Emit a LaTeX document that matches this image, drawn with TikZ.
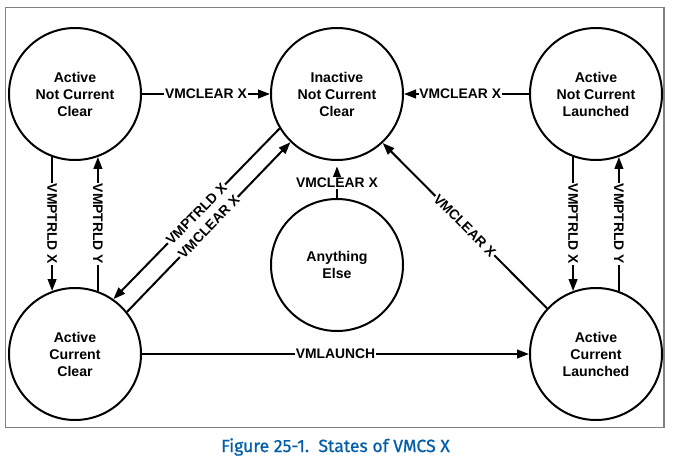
\documentclass[tikz,border=0pt]{standalone}
\usepackage{fontspec}
\setmainfont{Liberation Sans}
\newfontfamily\captionfont[FakeBold=0.8]{Fira Sans}
\usetikzlibrary{arrows.meta}
\definecolor{captionblue}{RGB}{0,94,170}

\begin{document}
\begin{tikzpicture}[%
        x = 0.75pt, y = -0.75pt,
        state/.style = {%
          circle,
          draw = black,
          line width = 1.5pt,
          minimum size = 99pt,
          inner sep = 0pt,
          align = center,
          font = \bfseries\fontsize{10.6}{12.75}\selectfont,
        },
        trans/.style = {%
          line width = 1.5pt,
          -{Triangle[length=9pt, width=6.5pt]},
        },
        lbl/.style = {%
          fill = white,
          inner sep = 0.6pt,
          font = \bfseries\fontsize{10.4}{12}\selectfont,
        },
      ]
      \useasboundingbox (0,0) rectangle (676,458);
      \draw[black!50, line width=0.8pt] (5.5,7.5) rectangle (664,427.5);
      \node[state] (anc clear)    at (75,94)   {Active\\Not Current\\Clear};
      \node[state] (inactive)     at (337,94)  {Inactive\\Not Current\\Clear};
      \node[state] (anc launched) at (596,94)  {Active\\Not Current\\Launched};
      \node[state] (anything)     at (337,265) {Anything\\Else};
      \node[state] (ac clear)     at (75,354)  {Active\\Current\\Clear};
      \node[state] (ac launched)  at (596,354) {Active\\Current\\Launched};
      \draw[trans] (anc clear) -- node[lbl] {VMCLEAR X} (inactive);
      \draw[trans] (anc launched) -- node[lbl, pos=0.55] {VMCLEAR X} (inactive);
      \draw[trans, shorten >=4pt] (anything) -- node[lbl, pos=0.4] {VMCLEAR X} (inactive);
      \draw[trans] (anc clear.250) -- node[lbl, rotate=-90] {VMPTRLD X} (ac clear.110);
      \draw[trans] (ac clear.70) -- node[lbl, rotate=-90] {VMPTRLD Y} (anc clear.290);
      \draw[trans] (anc launched.250) -- node[lbl, rotate=-90] {VMPTRLD X} (ac launched.110);
      \draw[trans] (ac launched.70) -- node[lbl, rotate=-90] {VMPTRLD Y} (anc launched.290);
      \draw[trans] (inactive.211) -- node[lbl, sloped] {VMPTRLD X} (ac clear.55);
      \draw[trans] (ac clear.39) -- node[lbl, sloped] {VMCLEAR X} (inactive.226);
      \draw[trans] (ac launched.137) -- node[lbl, sloped] {VMCLEAR X} (inactive.313);
      \draw[trans] (ac clear) -- node[lbl] {VMLAUNCH} (ac launched);
      \node[anchor=base, text=captionblue, font=\captionfont\fontsize{13.2}{15}\selectfont] (caption)
        at (335.5,452) {Figure 25-1.\ \ States of VMCS X};
    \end{tikzpicture}
\end{document}
